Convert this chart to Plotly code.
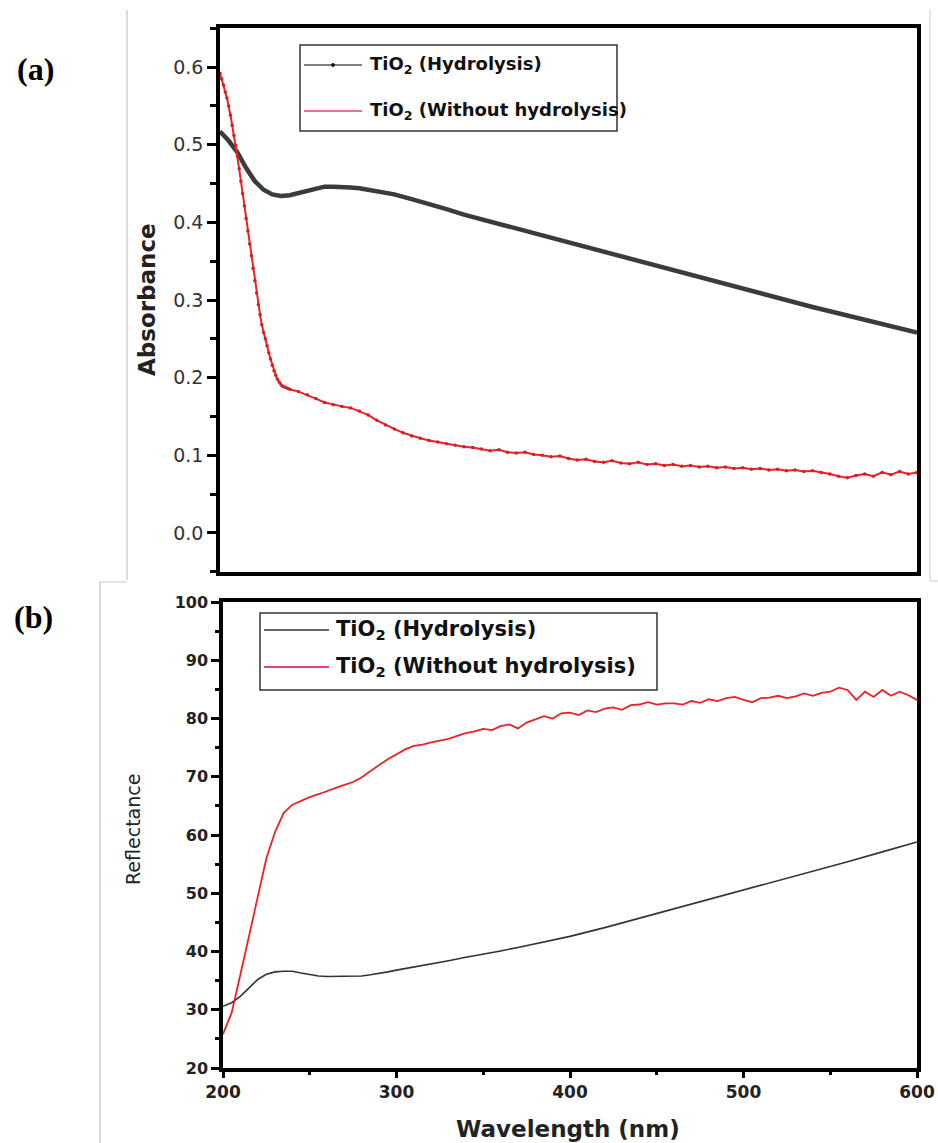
import plotly.graph_objects as go

# ---------------- data ----------------
# (a) Absorbance, TiO2 (Hydrolysis)
wl_abs_h = [200, 205, 210, 215, 220, 225, 230, 235, 240, 245, 250, 255, 260, 265, 270, 275,
            280, 285, 290, 295, 300, 310, 320, 330, 340, 350, 360, 370, 380, 390, 400, 420,
            440, 460, 480, 500, 520, 540, 560, 580, 600]
abs_h = [0.517, 0.505, 0.490, 0.470, 0.453, 0.442, 0.436, 0.434, 0.435, 0.438, 0.441, 0.444,
         0.446, 0.446, 0.446, 0.445, 0.444, 0.442, 0.440, 0.438, 0.436, 0.430, 0.424, 0.417,
         0.410, 0.404, 0.398, 0.392, 0.386, 0.381, 0.375, 0.363, 0.351, 0.339, 0.326, 0.314,
         0.303, 0.291, 0.280, 0.269, 0.258]

# (a) Absorbance, TiO2 (Without hydrolysis)
wl_abs_w = [200, 201, 202, 203, 204, 205, 206, 207, 208, 209, 210, 211, 212, 213, 214, 215,
            216, 217, 218, 219, 220, 221, 222, 223, 224, 225, 226, 227, 228, 229, 230, 231,
            232, 233, 234, 235, 236, 237, 238, 239, 240, 245, 250, 255, 260, 265, 270, 275,
            280, 285, 290, 295, 300, 305, 310, 315, 320, 325, 330, 335, 340, 345, 350, 355,
            360, 365, 370, 375, 380, 385, 390, 395, 400, 405, 410, 415, 420, 425, 430, 435,
            440, 445, 450, 455, 460, 465, 470, 475, 480, 485, 490, 495, 500, 505, 510, 515,
            520, 525, 530, 535, 540, 545, 550, 555, 560, 565, 570, 575, 580, 585, 590, 595, 600]
abs_w = [0.592, 0.585, 0.577, 0.568, 0.560, 0.550, 0.538, 0.525, 0.512, 0.499, 0.485, 0.469,
         0.453, 0.437, 0.421, 0.405, 0.389, 0.372, 0.357, 0.341, 0.325, 0.309, 0.294, 0.281,
         0.268, 0.258, 0.250, 0.241, 0.232, 0.224, 0.216, 0.209, 0.203, 0.198, 0.194, 0.191,
         0.189, 0.188, 0.187, 0.186, 0.185, 0.182, 0.178, 0.173, 0.168, 0.165, 0.163, 0.161,
         0.157, 0.152, 0.145, 0.139, 0.134, 0.129, 0.125, 0.122, 0.119, 0.117, 0.115, 0.113,
         0.111, 0.110, 0.108, 0.106, 0.107, 0.104, 0.103, 0.104, 0.101, 0.100, 0.098, 0.099,
         0.096, 0.094, 0.095, 0.092, 0.091, 0.093, 0.090, 0.089, 0.091, 0.088, 0.089, 0.087,
         0.088, 0.086, 0.087, 0.085, 0.086, 0.084, 0.085, 0.083, 0.084, 0.082, 0.083, 0.081,
         0.082, 0.080, 0.081, 0.079, 0.080, 0.078, 0.076, 0.073, 0.071, 0.074, 0.076, 0.073,
         0.078, 0.075, 0.079, 0.076, 0.078]

# (b) Reflectance, TiO2 (Hydrolysis)
wl_ref_h = [200, 205, 210, 215, 220, 225, 230, 235, 240, 245, 250, 255, 260, 265, 270, 275,
            280, 285, 290, 295, 300, 310, 320, 330, 340, 350, 360, 370, 380, 390, 400, 420,
            440, 460, 480, 500, 520, 540, 560, 580, 600]
ref_h = [30.6, 31.2, 32.3, 33.8, 35.2, 36.1, 36.5, 36.6, 36.6, 36.3, 36.0, 35.8, 35.7, 35.7,
         35.7, 35.8, 35.8, 36.0, 36.2, 36.5, 36.8, 37.3, 37.8, 38.4, 39.0, 39.5, 40.1, 40.7,
         41.3, 42.0, 42.6, 44.1, 45.7, 47.3, 48.9, 50.5, 52.1, 53.8, 55.4, 57.1, 58.8]

# (b) Reflectance, TiO2 (Without hydrolysis)
wl_ref_w = [200, 205, 210, 215, 220, 225, 230, 235, 240, 245, 250, 255, 260, 265, 270, 275,
            280, 285, 290, 295, 300, 305, 310, 315, 320, 325, 330, 335, 340, 345, 350, 355,
            360, 365, 370, 375, 380, 385, 390, 395, 400, 405, 410, 415, 420, 425, 430, 435,
            440, 445, 450, 455, 460, 465, 470, 475, 480, 485, 490, 495, 500, 505, 510, 515,
            520, 525, 530, 535, 540, 545, 550, 555, 560, 565, 570, 575, 580, 585, 590, 595, 600]
ref_w = [25.8, 29.5, 36.0, 42.5, 49.5, 56.0, 60.5, 63.8, 65.2, 65.9, 66.5, 67.0, 67.6, 68.1,
         68.6, 69.1, 69.9, 71.0, 72.0, 73.0, 73.9, 74.7, 75.3, 75.5, 75.9, 76.2, 76.5, 77.0,
         77.5, 77.8, 78.2, 78.0, 78.7, 79.0, 78.3, 79.3, 79.8, 80.4, 80.0, 80.9, 81.0, 80.6,
         81.4, 81.1, 81.7, 81.9, 81.5, 82.3, 82.4, 82.8, 82.4, 82.6, 82.6, 82.4, 83.0, 82.7,
         83.3, 83.0, 83.5, 83.7, 83.2, 82.8, 83.5, 83.6, 83.9, 83.5, 83.8, 84.3, 83.9, 84.4,
         84.6, 85.3, 84.9, 83.2, 84.6, 83.7, 84.9, 83.9, 84.6, 84.0, 83.2]

label_h = "TiO<sub>2</sub> (Hydrolysis)"
label_w = "TiO<sub>2</sub> (Without hydrolysis)"
x_ticks = [200, 300, 400, 500, 600]
abs_ticks = [0.0, 0.1, 0.2, 0.3, 0.4, 0.5, 0.6]
ref_ticks = [20, 30, 40, 50, 60, 70, 80, 90, 100]

# ---------------- figure ----------------
W, H = 938, 1143

def px(x):
    return x / W

def py(y):
    return 1 - y / H

FONT = "Liberation Sans, Arial, sans-serif"
WIDE = "DejaVu Sans, Verdana, sans-serif"
SERIF = "Liberation Serif, Times New Roman, serif"
RED = "#ec2227"
DARK = "#3b3b3b"

fig = go.Figure()

# panel (a)
fig.add_trace(go.Scatter(x=wl_abs_h, y=abs_h, mode="lines", line=dict(color=DARK, width=4.5),
                         name=label_h, showlegend=False, xaxis="x", yaxis="y"))
fig.add_trace(go.Scatter(x=wl_abs_w, y=abs_w, mode="lines+markers",
                         line=dict(color=RED, width=2), marker=dict(color="#d42020", size=3.5),
                         name=label_w, showlegend=False, xaxis="x", yaxis="y"))
# panel (b)
fig.add_trace(go.Scatter(x=wl_ref_h, y=ref_h, mode="lines", name=label_h,
                         line=dict(color="#333333", width=1.6),
                         showlegend=False, xaxis="x2", yaxis="y2"))
fig.add_trace(go.Scatter(x=wl_ref_w, y=ref_w, mode="lines", name=label_w,
                         line=dict(color=RED, width=1.8),
                         showlegend=False, xaxis="x2", yaxis="y2"))

axis_common = dict(showline=True, linewidth=3.5, linecolor="black", mirror=True,
                   showgrid=False, zeroline=False, automargin=False)

annotations = [
    dict(text="(a)", x=px(35), y=py(69)),
    dict(text="(b)", x=px(33), y=py(617)),
]
for a in annotations:
    a.update(xref="paper", yref="paper", showarrow=False, xanchor="center", yanchor="middle",
             font=dict(family=SERIF, size=32, color="black", weight="bold"))

annotations += [
    dict(text="Absorbance", x=px(147), y=py(300), xref="paper", yref="paper",
         showarrow=False, textangle=-90, xanchor="center", yanchor="middle",
         font=dict(family=WIDE, size=23, color="#222", weight="bold")),
    dict(text="Reflectance", x=px(133), y=py(830), xref="paper", yref="paper",
         showarrow=False, textangle=-90, xanchor="center", yanchor="middle",
         font=dict(family=WIDE, size=19, color="#222")),
    dict(text="Wavelength (nm)", x=px(568), y=py(1129), xref="paper", yref="paper",
         showarrow=False, xanchor="center", yanchor="middle",
         font=dict(family=WIDE, size=23, color="#222", weight="bold")),
    # legend texts, panel (a)
    dict(text=label_h, x=px(368), y=py(65), xref="paper", yref="paper", showarrow=False,
         xanchor="left", yanchor="middle",
         font=dict(family=WIDE, size=18, color="#111", weight="bold")),
    dict(text=label_w, x=px(368), y=py(111), xref="paper", yref="paper", showarrow=False,
         xanchor="left", yanchor="middle",
         font=dict(family=WIDE, size=18, color="#111", weight="bold")),
    # legend texts, panel (b)
    dict(text=label_h, x=px(334), y=py(630), xref="paper", yref="paper", showarrow=False,
         xanchor="left", yanchor="middle",
         font=dict(family=WIDE, size=21, color="#111", weight="bold")),
    dict(text=label_w, x=px(334), y=py(667), xref="paper", yref="paper", showarrow=False,
         xanchor="left", yanchor="middle",
         font=dict(family=WIDE, size=21, color="#111", weight="bold")),
]

def hline(x0, x1, y, color, width):
    return dict(type="line", xref="paper", yref="paper", x0=px(x0), x1=px(x1),
                y0=py(y), y1=py(y), line=dict(color=color, width=width))

def vline(x, y0, y1, color, width):
    return dict(type="line", xref="paper", yref="paper", x0=px(x), x1=px(x),
                y0=py(y0), y1=py(y1), line=dict(color=color, width=width))

shapes = [
    # image seams of the original composite
    vline(127, 10, 580, "#cfcfcf", 1.5),
    vline(930, 10, 581, "#dcdcdc", 1.5),
    hline(930, 938, 581, "#dcdcdc", 1.5),
    hline(100, 127, 582, "#dcdcdc", 1.5),
    vline(100, 582, 1143, "#cfcfcf", 1.5),
    # legend (a)
    dict(type="rect", xref="paper", yref="paper", x0=px(300), x1=px(617), y0=py(131), y1=py(45),
         line=dict(color="#333", width=1.5), fillcolor="white"),
    hline(304, 362, 65, "#555555", 1.3),
    dict(type="circle", xref="paper", yref="paper", x0=px(331.5), x1=px(334.5),
         y0=py(66.5), y1=py(63.5), line=dict(color="#111", width=1), fillcolor="#111"),
    hline(304, 362, 111, "#e0476b", 1.6),
    # legend (b)
    dict(type="rect", xref="paper", yref="paper", x0=px(260), x1=px(657), y0=py(690), y1=py(613),
         line=dict(color="#333", width=1.5), fillcolor="white"),
    hline(264, 329, 630, "#333333", 1.6),
    hline(264, 329, 667, "#e0476b", 1.8),
]

fig.update_layout(
    width=W, height=H,
    margin=dict(l=0, r=0, t=0, b=0, pad=0, autoexpand=False),
    paper_bgcolor="white", plot_bgcolor="white",
    font=dict(family=FONT, color="#222"),
    showlegend=False,
    xaxis=dict(domain=[px(220), px(917)], range=[200, 600], anchor="y",
               showticklabels=False, ticks="", **axis_common),
    yaxis=dict(domain=[py(572), py(28)], range=[-0.0503, 0.6503], anchor="x",
               tickvals=abs_ticks, ticktext=[f"{v:.1f}" for v in abs_ticks],
               ticks="outside", ticklen=9, tickwidth=3, tickcolor="black",
               tickfont=dict(family=WIDE, size=19, color="#333"),
               minor=dict(ticks="outside", dtick=0.05, tick0=0.0, ticklen=6,
                          tickwidth=3, tickcolor="black"),
               **axis_common),
    xaxis2=dict(domain=[px(223), px(917)], range=[200, 600], anchor="y2",
                tickvals=x_ticks, ticks="outside", ticklen=6, tickwidth=3, tickcolor="black",
                tickfont=dict(family=WIDE, size=17, color="#222", weight="bold"),
                minor=dict(ticks="outside", dtick=50, tick0=200, ticklen=3,
                           tickwidth=3, tickcolor="black"),
                **axis_common),
    yaxis2=dict(domain=[py(1068), py(602)], range=[20, 100], anchor="x2",
                tickvals=ref_ticks, ticks="outside", ticklen=8, tickwidth=3, tickcolor="black",
                tickfont=dict(family=WIDE, size=16, color="#222", weight="bold"),
                minor=dict(ticks="outside", dtick=5, tick0=20, ticklen=4,
                           tickwidth=3, tickcolor="black"),
                **axis_common),
    annotations=annotations,
    shapes=shapes,
)

fig.write_html(
    "out.html",
    config={"displayModeBar": False},
    post_script="document.body.style.margin='0px';"
                "document.documentElement.style.overflow='hidden';",
)
